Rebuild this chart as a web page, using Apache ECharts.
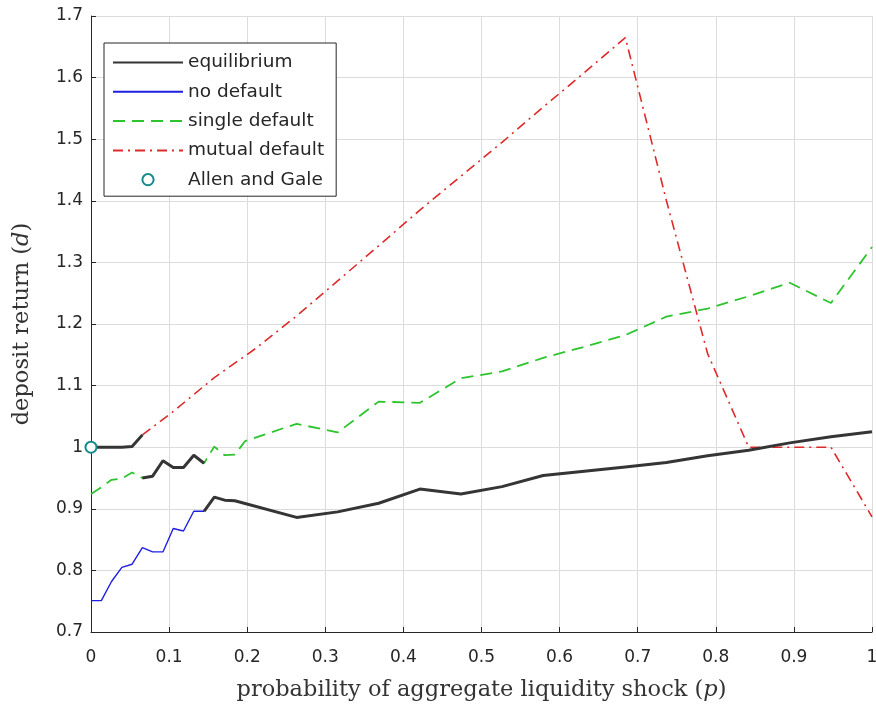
<!DOCTYPE html>
<html>
<head>
<meta charset="utf-8">
<script src="https://cdn.jsdelivr.net/npm/echarts@6/dist/echarts.min.js"></script>
<style>
  html, body { margin: 0; padding: 0; background: #ffffff; }
  #chart { width: 876px; height: 707px; }
</style>
</head>
<body>
<div id="chart"></div>
<script>
// Probability of the aggregate liquidity shock (p) and deposit return (d) per regime.

const noDefaultP = [0, 0.0132, 0.0263, 0.0395, 0.0526, 0.0658, 0.0789, 0.0921, 0.1053, 0.1184, 0.1316, 0.1447];
const noDefaultD = [0.751, 0.751, 0.782, 0.805, 0.810, 0.837, 0.830, 0.830, 0.868, 0.864, 0.896, 0.896];

const singleDefaultP = [0, 0.0132, 0.0263, 0.0395, 0.0526, 0.0658, 0.0789, 0.0921, 0.1053, 0.1184, 0.1316, 0.1447,
  0.1579, 0.1711, 0.1842, 0.1974, 0.2632, 0.3158, 0.3684, 0.4211, 0.4737, 0.5263, 0.5789, 0.6316,
  0.6842, 0.7368, 0.7895, 0.8421, 0.8947, 0.9474, 1.0];
const singleDefaultD = [0.924, 0.935, 0.947, 0.949, 0.959, 0.950, 0.953, 0.978, 0.967, 0.967, 0.987, 0.974,
  1.001, 0.987, 0.988, 1.010, 1.038, 1.024, 1.074, 1.072, 1.112, 1.123, 1.145, 1.163,
  1.182, 1.212, 1.225, 1.245, 1.267, 1.234, 1.325];

const mutualDefaultP = [0.0658, 0.1053, 0.1579, 0.2105, 0.2632, 0.3158, 0.3684, 0.4211, 0.4737, 0.5263,
  0.5789, 0.6316, 0.6842, 0.7368, 0.7895, 0.8421, 0.8947, 0.9474, 1.0];
const mutualDefaultD = [1.020, 1.058, 1.113, 1.160, 1.213, 1.270, 1.327, 1.385, 1.440, 1.495,
  1.552, 1.608, 1.665, 1.400, 1.152, 1.000, 1.000, 1.000, 0.887];

// Equilibrium return, drawn as three separate pieces
const eqUpperP = [0, 0.0132, 0.0263, 0.0395, 0.0526, 0.0658];
const eqUpperD = [1.000, 1.000, 1.000, 1.000, 1.001, 1.020];
const eqMiddleP = [0.0658, 0.0789, 0.0921, 0.1053, 0.1184, 0.1316, 0.1447];
const eqMiddleD = [0.950, 0.953, 0.978, 0.967, 0.967, 0.987, 0.974];
const eqLowerP = [0.1447, 0.1579, 0.1711, 0.1842, 0.2632, 0.3158, 0.3684, 0.4211, 0.4737, 0.5263,
  0.5789, 0.6316, 0.6842, 0.7368, 0.7895, 0.8421, 0.8947, 0.9474, 1.0];
const eqLowerD = [0.896, 0.919, 0.914, 0.913, 0.886, 0.895, 0.909, 0.932, 0.924, 0.936,
  0.954, 0.961, 0.968, 0.975, 0.986, 0.995, 1.007, 1.017, 1.025];

const allenGaleP = [0];
const allenGaleD = [1.0];

const seriesNames = ['equilibrium', 'no default', 'single default', 'mutual default', 'Allen and Gale'];
const xTicks = [0, 0.1, 0.2, 0.3, 0.4, 0.5, 0.6, 0.7, 0.8, 0.9, 1];
const yTicks = [0.7, 0.8, 0.9, 1.0, 1.1, 1.2, 1.3, 1.4, 1.5, 1.6, 1.7];

const pairs = (xs, ys) => xs.map((x, i) => [x, ys[i]]);
const gap = x => [x, '-'];

const equilibriumData = []
  .concat(pairs(eqUpperP, eqUpperD), [gap(eqUpperP[eqUpperP.length - 1])])
  .concat(pairs(eqMiddleP, eqMiddleD), [gap(eqMiddleP[eqMiddleP.length - 1])])
  .concat(pairs(eqLowerP, eqLowerD));

const TICK_FONT = 'DejaVu Sans';
const SERIF = 'DejaVu Serif';
const INK = '#262626';
const TITLE_INK = '#333333';

const titleStyle = {
  fontFamily: SERIF, fontSize: 22.5, color: TITLE_INK,
  rich: { i: { fontFamily: SERIF, fontSize: 22.5, fontStyle: 'italic', color: TITLE_INK } }
};

const chart = echarts.init(document.getElementById('chart'), null, { renderer: 'canvas' });

chart.setOption({
  backgroundColor: '#ffffff',
  animation: false,
  grid: { left: 91, right: 4, top: 16, bottom: 75, containLabel: false, outerBoundsMode: 'none' },
  legend: {
    orient: 'vertical',
    left: 104,
    top: 43,
    padding: [10, 12, 7, 8],
    itemWidth: 70,
    itemHeight: 14,
    itemGap: 10.3,
    backgroundColor: '#ffffff',
    borderColor: INK,
    borderWidth: 1,
    borderRadius: 0,
    selectedMode: false,
    textStyle: { fontFamily: TICK_FONT, fontSize: 18.5, color: INK },
    itemStyle: { opacity: 0 },
    data: [
      { name: 'equilibrium' },
      { name: 'no default' },
      { name: 'single default' },
      { name: 'mutual default' },
      { name: 'Allen and Gale', itemStyle: { opacity: 1, color: '#178a8a' }, lineStyle: { opacity: 0 } }
    ]
  },
  xAxis: {
    type: 'value',
    min: xTicks[0],
    max: xTicks[xTicks.length - 1],
    interval: 0.1,
    name: 'probability of aggregate liquidity shock ({i|p})',
    nameLocation: 'middle',
    nameGap: 47,
    nameTextStyle: titleStyle,
    axisLine: { show: true, onZero: false, lineStyle: { color: INK, width: 1 } },
    axisTick: { show: true, inside: true, length: 5, lineStyle: { color: INK } },
    axisLabel: {
      margin: 17, fontFamily: TICK_FONT, fontSize: 17, color: INK,
      formatter: v => String(parseFloat(v.toFixed(1)))
    },
    splitLine: { show: true, lineStyle: { color: '#dcdcdc', width: 1 } }
  },
  yAxis: {
    type: 'value',
    min: yTicks[0],
    max: yTicks[yTicks.length - 1],
    interval: 0.1,
    name: 'deposit return ({i|d})',
    nameLocation: 'middle',
    nameGap: 57,
    nameTextStyle: titleStyle,
    axisLine: { show: true, onZero: false, lineStyle: { color: INK, width: 1 } },
    axisTick: { show: true, inside: true, length: 5, lineStyle: { color: INK } },
    axisLabel: {
      margin: 8, fontFamily: TICK_FONT, fontSize: 17, color: INK,
      formatter: v => String(parseFloat(v.toFixed(1)))
    },
    splitLine: { show: true, lineStyle: { color: '#dcdcdc', width: 1 } }
  },
  series: [
    {
      name: 'no default',
      type: 'line',
      data: pairs(noDefaultP, noDefaultD),
      symbol: 'none',
      z: 2,
      lineStyle: { color: '#1f1fe0', width: 1.4 },
      itemStyle: { color: '#1f1fe0' }
    },
    {
      name: 'single default',
      type: 'line',
      data: pairs(singleDefaultP, singleDefaultD),
      symbol: 'none',
      z: 3,
      lineStyle: { color: '#2ec42e', width: 1.8, type: [12, 7] },
      itemStyle: { color: '#2ec42e' }
    },
    {
      name: 'mutual default',
      type: 'line',
      data: pairs(mutualDefaultP, mutualDefaultD),
      symbol: 'none',
      z: 4,
      lineStyle: { color: '#dd2a2a', width: 1.6, type: [10, 5, 2, 5] },
      itemStyle: { color: '#dd2a2a' }
    },
    {
      name: 'equilibrium',
      type: 'line',
      data: equilibriumData,
      connectNulls: false,
      symbol: 'none',
      z: 5,
      lineStyle: { color: '#353535', width: 3 },
      itemStyle: { color: '#353535' }
    },
    {
      name: 'Allen and Gale',
      type: 'line',
      data: pairs(allenGaleP, allenGaleD),
      symbol: 'emptyCircle',
      symbolSize: 11,
      showSymbol: true,
      z: 6,
      clip: false,
      lineStyle: { width: 0, opacity: 0 },
      itemStyle: { color: '#178a8a', borderColor: '#178a8a', borderWidth: 2.5 }
    }
  ]
});
</script>
</body>
</html>
